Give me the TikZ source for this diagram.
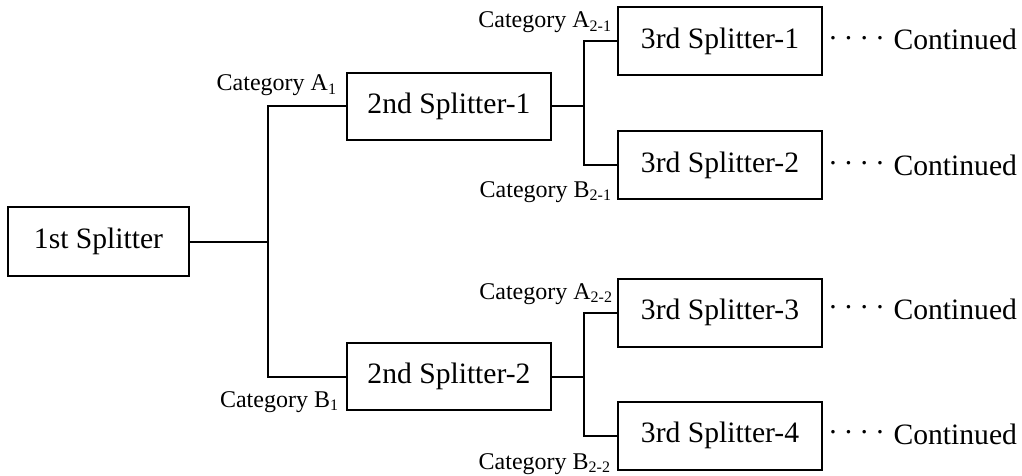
\documentclass[tikz,border=0pt]{standalone}
\usepackage{fontspec}
\setmainfont{Liberation Serif}
\begin{document}
\begin{tikzpicture}[x=0.5pt,y=-0.5pt,
  line width=1pt,
  box/.style={draw, line width=1pt, inner sep=0pt, font=\fontsize{14.8}{17}\selectfont},
  first/.style={box, minimum width=90.5pt, minimum height=34.5pt},
  second/.style={box, minimum width=102pt, minimum height=33.5pt},
  third/.style={box, minimum width=102pt, minimum height=34pt},
  cat/.style={anchor=base east, inner sep=0pt, font=\fontsize{12}{14}\selectfont},
  cont/.style={anchor=base west, inner sep=0pt, font=\fontsize{14.8}{17}\selectfont},
]
\useasboundingbox (0,0) rectangle (1022,476);
\newcommand{\dotsgap}{\hspace{4.15pt}}
\newcommand{\rdot}{\raisebox{0.35em}{.}}
\newcommand{\contd}{\rdot\dotsgap\rdot\dotsgap\rdot\dotsgap\rdot\hspace{4.9pt}Continued}

% splitter boxes
\node[first]  (s1)  at (98.5,241.5) {1st Splitter};
\node[second] (s2a) at (449,106.5)  {2nd Splitter-1};
\node[second] (s2b) at (449,376.5)  {2nd Splitter-2};
\node[third]  (s3a) at (720,41)     {3rd Splitter-1};
\node[third]  (s3b) at (720,165)    {3rd Splitter-2};
\node[third]  (s3c) at (720,312.5)  {3rd Splitter-3};
\node[third]  (s3d) at (720,435.5)  {3rd Splitter-4};

% branch points
\coordinate (j1) at (268,241.5);
\coordinate (j2) at (584,106.5);
\coordinate (j3) at (584,376.5);

% first level
\draw (s1.east) -- (j1);
\draw (s2a.west) -| (j1) |- (s2b.west);
% second level
\draw (s2a.east) -- (j2);
\draw (s3a.west) -| (j2) |- (s3b.west);
\draw (s2b.east) -- (j3);
\draw (s3c.west) -| (j3) |- (s3d.west);

% branch labels
\node[cat] (la1)  at (338,90.5) {Category A\textsubscript{1}};
\node[cat] (lb1)  at (340,407)  {Category B\textsubscript{1}};
\node[cat] (la21) at (613,28)   {Category A\textsubscript{2-1}};
\node[cat] (lb21) at (613,197)  {Category B\textsubscript{2-1}};
\node[cat] (la22) at (614,299)  {Category A\textsubscript{2-2}};
\node[cat] (lb22) at (612,469)  {Category B\textsubscript{2-2}};

% continuation marks
\node[cont] (c1) at (828.3,50)  {\contd};
\node[cont] (c2) at (828.3,175) {\contd};
\node[cont] (c3) at (828.3,319) {\contd};
\node[cont] (c4) at (828.3,444) {\contd};
\end{tikzpicture}
\end{document}
